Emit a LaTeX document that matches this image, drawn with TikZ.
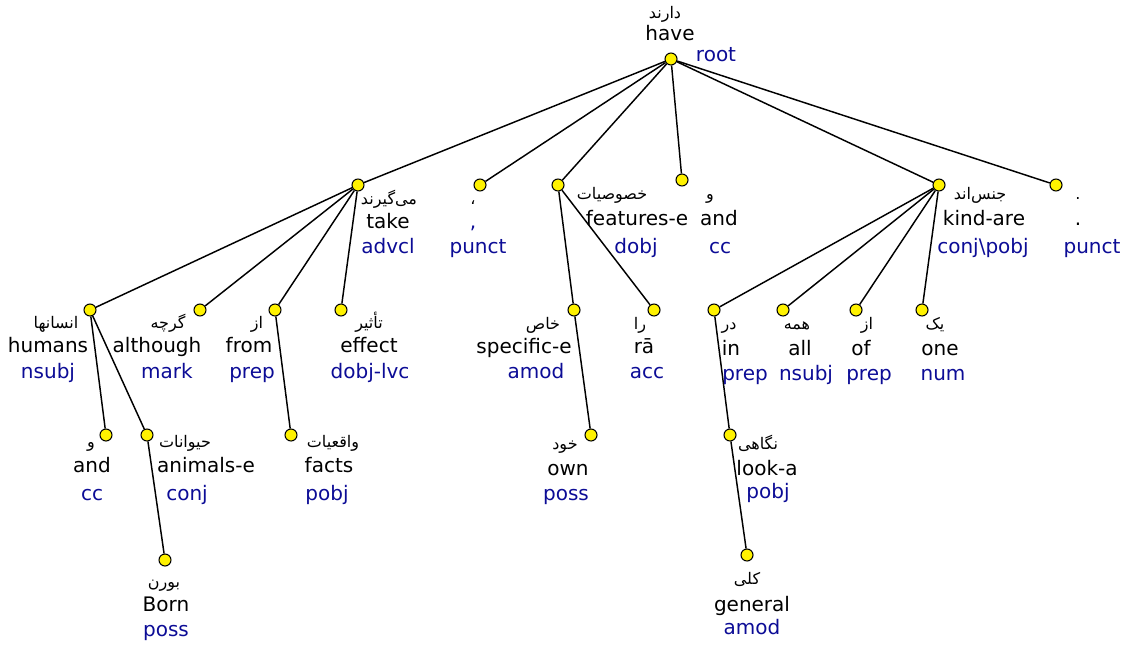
\documentclass[tikz,border=0pt]{standalone}
\usepackage{fontspec}
\setmainfont{DejaVu Sans}
\newfontfamily\fafont[Script=Arabic]{DejaVu Sans}
\TeXXeTstate=1
\definecolor{relblue}{RGB}{12,12,150}
\tikzset{
  tok/.style={circle, draw=black, line width=0.8pt, fill=yellow, minimum size=9pt, inner sep=0pt},
  dep/.style={draw=black, line width=1.1pt},
  fa/.style={inner sep=0pt, font=\fafont\fontsize{12}{14}\selectfont, text height=9pt, text depth=3pt},
  en/.style={inner sep=0pt, font=\fontsize{15}{18}\selectfont, text height=11pt, text depth=3pt},
  rel/.style={en, text=relblue}
}
\begin{document}
\begin{tikzpicture}[x=0.75pt,y=-0.75pt]
\useasboundingbox (0,0) rectangle (1127,646);

% tokens (dependency tree nodes)
\node[tok] (have)   at (671,59) {};
\node[tok] (take)   at (358,185) {};
\node[tok] (comma)  at (480,185) {};
\node[tok] (feat)   at (558,185) {};
\node[tok] (andA)   at (682,180) {};
\node[tok] (kind)   at (939,185) {};
\node[tok] (stop)   at (1056,185) {};
\node[tok] (humans) at (90,310) {};
\node[tok] (although) at (200,310) {};
\node[tok] (from)   at (275,310) {};
\node[tok] (effect) at (341,310) {};
\node[tok] (specific) at (574,310) {};
\node[tok] (ra)     at (654,310) {};
\node[tok] (in)     at (714,310) {};
\node[tok] (all)    at (783,310) {};
\node[tok] (of)     at (856,310) {};
\node[tok] (one)    at (922,310) {};
\node[tok] (andB)   at (106,435) {};
\node[tok] (animals) at (147,435) {};
\node[tok] (facts)  at (291,435) {};
\node[tok] (own)    at (591,435) {};
\node[tok] (look)   at (730,435) {};
\node[tok] (born)   at (165,560) {};
\node[tok] (general) at (747,555) {};

% dependency arcs
\foreach \h/\d in {have/take, have/comma, have/feat, have/andA, have/kind, have/stop,
                   take/humans, take/although, take/from, take/effect,
                   humans/andB, humans/animals, animals/born, from/facts,
                   feat/specific, feat/ra, specific/own,
                   kind/in, kind/all, kind/of, kind/one, in/look, look/general}
  \draw[dep] (\h) -- (\d);

% labels: Persian word, English gloss, relation
\node[fa]  (have-fa)  at (665,14)  {\beginR دارند\endR};
\node[en]  (have-en)  at (670,35)  {have};
\node[rel] (have-rel) at (716,56)  {root};

\node[fa]  (take-fa)  at (389,200) {\beginR می‌گیرند\endR};
\node[en]  (take-en)  at (388,223) {take};
\node[rel] (take-rel) at (388,248) {advcl};

\node[fa]  (comma-fa)  at (473,200) {\beginR ،\endR};
\node[rel] (comma-en)  at (473,223) {,};
\node[rel] (comma-rel) at (478,248) {punct};

\node[fa]  (feat-fa)  at (612,195) {\beginR خصوصیات\endR};
\node[en]  (feat-en)  at (637,220) {features-e};
\node[rel] (feat-rel) at (636,248) {dobj};

\node[fa]  (andA-fa)  at (710,195) {\beginR و\endR};
\node[en]  (andA-en)  at (719,220) {and};
\node[rel] (andA-rel) at (720,248) {cc};

\node[fa]  (kind-fa)  at (980,195) {\beginR جنس‌اند\endR};
\node[en]  (kind-en)  at (984,220) {kind-are};
\node[rel] (kind-rel) at (983,248) {conj\textbackslash pobj};

\node[fa]  (stop-fa)  at (1078,195) {.};
\node[en]  (stop-en)  at (1078,220) {.};
\node[rel] (stop-rel) at (1092,248) {punct};

\node[fa]  (humans-fa)  at (56,324)  {\beginR انسانها\endR};
\node[en]  (humans-en)  at (48,347)  {humans};
\node[rel] (humans-rel) at (48,373)  {nsubj};

\node[fa]  (although-fa)  at (168,324) {\beginR گرچه\endR};
\node[en]  (although-en)  at (157,347) {although};
\node[rel] (although-rel) at (167,373) {mark};

\node[fa]  (from-fa)  at (257,324) {\beginR از\endR};
\node[en]  (from-en)  at (249,347) {from};
\node[rel] (from-rel) at (252,373) {prep};

\node[fa]  (effect-fa)  at (369,324) {\beginR تأثیر\endR};
\node[en]  (effect-en)  at (369,347) {effect};
\node[rel] (effect-rel) at (370,373) {dobj-lvc};

\node[fa]  (specific-fa)  at (543,325) {\beginR خاص\endR};
\node[en]  (specific-en)  at (524,348) {specific-e};
\node[rel] (specific-rel) at (536,373) {amod};

\node[fa]  (ra-fa)  at (640,325) {\beginR را\endR};
\node[en]  (ra-en)  at (644,348) {rā};
\node[rel] (ra-rel) at (647,373) {acc};

\node[fa]  (in-fa)  at (729,325) {\beginR در\endR};
\node[en]  (in-en)  at (731,350) {in};
\node[rel] (in-rel) at (745,375) {prep};

\node[fa]  (all-fa)  at (797,325) {\beginR همه\endR};
\node[en]  (all-en)  at (800,350) {all};
\node[rel] (all-rel) at (806,375) {nsubj};

\node[fa]  (of-fa)  at (867,325) {\beginR از\endR};
\node[en]  (of-en)  at (861,350) {of};
\node[rel] (of-rel) at (869,375) {prep};

\node[fa]  (one-fa)  at (935,325) {\beginR یک\endR};
\node[en]  (one-en)  at (940,350) {one};
\node[rel] (one-rel) at (943,375) {num};

\node[fa]  (andB-fa)  at (91,443)  {\beginR و\endR};
\node[en]  (andB-en)  at (92,467)  {and};
\node[rel] (andB-rel) at (92,495)  {cc};

\node[fa]  (animals-fa)  at (185,443) {\beginR حیوانات\endR};
\node[en]  (animals-en)  at (206,467) {animals-e};
\node[rel] (animals-rel) at (187,495) {conj};

\node[fa]  (facts-fa)  at (333,443) {\beginR واقعیات\endR};
\node[en]  (facts-en)  at (329,467) {facts};
\node[rel] (facts-rel) at (327,495) {pobj};

\node[fa]  (own-fa)  at (565,445) {\beginR خود\endR};
\node[en]  (own-en)  at (568,470) {own};
\node[rel] (own-rel) at (566,495) {poss};

\node[fa]  (look-fa)  at (758,445) {\beginR نگاهی\endR};
\node[en]  (look-en)  at (767,470) {look-a};
\node[rel] (look-rel) at (768,493) {pobj};

\node[fa]  (born-fa)  at (164,583) {\beginR بورن\endR};
\node[en]  (born-en)  at (166,606) {Born};
\node[rel] (born-rel) at (166,631) {poss};

\node[fa]  (general-fa)  at (747,580) {\beginR کلی\endR};
\node[en]  (general-en)  at (752,606) {general};
\node[rel] (general-rel) at (752,629) {amod};
\end{tikzpicture}
\end{document}
